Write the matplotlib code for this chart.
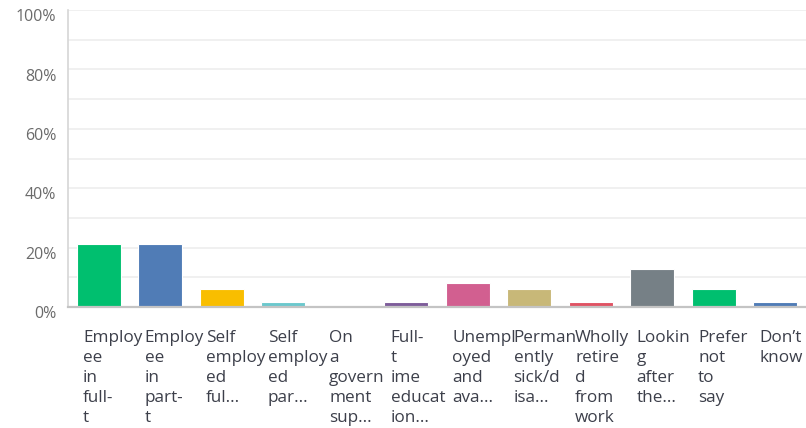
import matplotlib
matplotlib.use("Agg")
import matplotlib.pyplot as plt
import matplotlib.transforms as mtransforms

categories = [
    "Employ\nee\nin\nfull-\nt",
    "Employ\nee\nin\npart-\nt",
    "Self\nemploy\ned\nful...",
    "Self\nemploy\ned\npar...",
    "On\na\ngovern\nment\nsup...",
    "Full-\nt\nime\neducat\nion...",
    "Unempl\noyed\nand\nava...",
    "Perman\nently\nsick/d\nisa...",
    "Wholly\nretire\nd\nfrom\nwork",
    "Lookin\ng\nafter\nthe...",
    "Prefer\nnot\nto\nsay",
    "Don\u2019t\nknow",
]
values = [21.2, 21.2, 6.1, 1.7, 0.0, 1.7, 8.1, 6.1, 1.7, 12.7, 6.1, 1.7]
colors = ["#00BF6F", "#507CB6", "#F9BE00", "#6BC8CD", "#FF8B4F", "#7D5C9A",
          "#D25F90", "#C8B878", "#E05263", "#768086", "#00BF6F", "#507CB6"]
yticks = [0, 20, 40, 60, 80, 100]
ytick_labels = ["0%", "20%", "40%", "60%", "80%", "100%"]

plt.rcParams['font.family'] = ['Open Sans', 'DejaVu Sans']

W, H = 806, 428
fig = plt.figure(figsize=(W / 100, H / 100), dpi=100)
left_px, right_px, top_px, bottom_px = 68, 806, 10, 307
ax = fig.add_axes([left_px / W, 1 - bottom_px / H, (right_px - left_px) / W, (bottom_px - top_px) / H])

x = list(range(len(categories)))
ax.bar(x, values, width=0.72, color=colors, edgecolor="white", linewidth=0.8, zorder=3)

ax.set_xlim(-0.5, len(categories) - 0.5)
ax.set_ylim(0, 100)
ax.set_yticks(range(0, 101, 10))
ax.yaxis.grid(True, color="#eeeeee", linewidth=1.2, zorder=0)
ax.tick_params(axis="both", length=0, labelleft=False, labelbottom=False)
ax.set_xticks([])

for s in ["top", "right"]:
    ax.spines[s].set_visible(False)
ax.spines["left"].set_color("#d6d6d6")
ax.spines["left"].set_linewidth(1.2)
ax.spines["bottom"].set_color("#c4c4c4")
ax.spines["bottom"].set_linewidth(1.6)
ax.spines["bottom"].set_zorder(4)

# y tick labels (offset slightly below gridline like the original)
for v, lab in zip(yticks, ytick_labels):
    ax.annotate(lab, xy=(0, v), xycoords=("axes fraction", "data"),
                xytext=(-8.5, -5.2), textcoords="offset points",
                ha="right", va="center", fontsize=11.5, color="#6b6b6b")

# x category labels, left aligned near each bar's left edge
trans = mtransforms.blended_transform_factory(ax.transData, ax.transAxes)
for i, lab in enumerate(categories):
    ax.text(i - 0.255, -0.078, lab, transform=trans, ha="left", va="top",
            fontsize=12.3, color="#3c3f4a", linespacing=1.33)

fig.savefig("out.png", dpi=100)
